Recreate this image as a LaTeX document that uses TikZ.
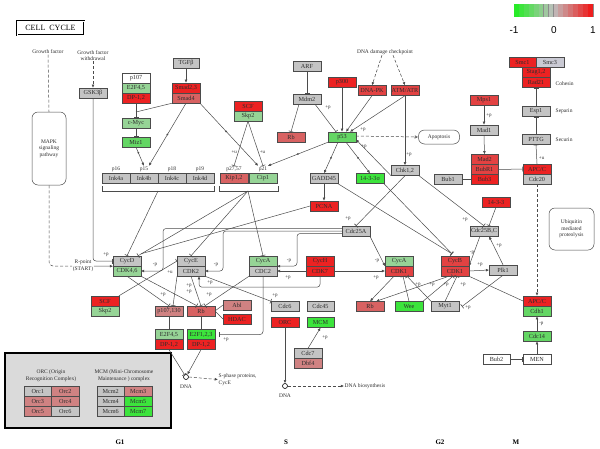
\documentclass[tikz,border=0pt]{standalone}
\usepackage{fontspec}
\setmainfont{Liberation Serif}
\newfontfamily\barfont{Liberation Sans}
\usetikzlibrary{arrows.meta,calc}
\definecolor{cGray}{RGB}{196,196,196}
\definecolor{cSmc}{RGB}{202,202,212}
\definecolor{cR}{RGB}{236,34,34}
\definecolor{cR2}{RGB}{226,66,66}
\definecolor{cR3}{RGB}{216,98,98}
\definecolor{cR4}{RGB}{208,130,130}
\definecolor{cG}{RGB}{60,228,60}
\definecolor{cG2}{RGB}{100,214,100}
\definecolor{cG3}{RGB}{150,212,150}
\definecolor{cLine}{RGB}{75,75,75}
\definecolor{cTxt}{RGB}{45,45,45}
\definecolor{cLeg}{RGB}{218,218,218}
\definecolor{cBG}{RGB}{40,235,40}
\definecolor{cBM}{RGB}{190,190,190}
\definecolor{cBR}{RGB}{238,30,30}
\tikzset{
 kb/.style={draw=cLine, line width=0.4pt, minimum width=27.5pt, minimum height=10pt, inner sep=0pt, font=\fontsize{6.2}{6.2}\selectfont, text=cTxt},
 lab/.style={font=\fontsize{5.5}{6.5}\selectfont, text=cTxt, inner sep=0.5pt},
 plab/.style={font=\fontsize{5}{5}\selectfont, text=cTxt, inner sep=0pt},
 ln/.style={draw=cLine, line width=0.5pt},
 act/.style={ln, -{Latex[length=3.2pt,width=2.8pt]}},
 inh/.style={ln, -{Bar[width=5pt,line width=0.6pt]}},
 dsh/.style={ln, dash pattern=on 3pt off 2pt},
 dact/.style={dsh, -{Latex[length=3.2pt,width=2.8pt]}},
 dotm/.style={circle, fill=cLine, inner sep=0pt, minimum size=2pt},
 rbox/.style={draw=cLine, line width=0.5pt, rounded corners=6pt, inner sep=0.5pt, align=center, font=\fontsize{5.5}{6.5}\selectfont, text=cTxt},
 phase/.style={font=\bfseries\fontsize{7}{7}\selectfont, text=black, inner sep=0pt},
}
\begin{document}
\begin{tikzpicture}[x=1pt,y=-1pt]
\useasboundingbox (0,0) rectangle (600,448);
\fill[white] (0,0) rectangle (600,448);

% ---------- title and colour bar
\node[draw=black, line width=0.8pt, double, double distance=0.7pt, minimum width=67pt, minimum height=14pt, inner sep=0pt, font=\fontsize{8}{8}\selectfont] (title) at (50.5,28) {CELL\ \ CYCLE};
\foreach \i in {0,...,15}{
  \pgfmathsetmacro\xa{514+\i*4.9375}
  \pgfmathsetmacro\xb{\xa+4.9375}
  \ifnum\i<8
    \pgfmathtruncatemacro\pp{100*(7.5-\i)/7.5}
    \fill[cBG!\pp!cBM] (\xa,4) rectangle (\xb,17);
  \else
    \pgfmathtruncatemacro\pp{100*(\i-7.5)/7.5}
    \fill[cBR!\pp!cBM] (\xa,4) rectangle (\xb,17);
  \fi
  \draw[black!45, line width=0.3pt] (\xb,4) -- (\xb,17);
}
\node[font=\barfont\fontsize{10}{10}\selectfont, inner sep=0pt] (bm1) at (514,30) {-1};
\node[font=\barfont\fontsize{10}{10}\selectfont, inner sep=0pt] (b0) at (554,30) {0};
\node[font=\barfont\fontsize{10}{10}\selectfont, inner sep=0pt] (b1) at (593,30) {1};

% ---------- G1 upper
\node[lab] (gf) at (48,52) {Growth factor};
\node[lab, align=center] (gfw) at (93,55.5) {Growth factor\\withdrawal};
\node[rbox, minimum width=34pt, minimum height=73pt] (mapk) at (49,148.5) {MAPK\\signaling\\pathway};
\node[kb,fill=cGray] (gsk) at (93,93) {GSK3β};
\node[kb,fill=white] (p107) at (136,78) {p107};
\node[kb,fill=cG3] (e2f45a) at (136,88) {E2F4,5};
\node[kb,fill=cR] (dp12a) at (136,98) {DP-1,2};
\node[kb,fill=cGray, minimum width=26pt] (tgfb) at (186,63) {TGFβ};
\node[kb,fill=cR] (smad23) at (186,88) {Smad2,3};
\node[kb,fill=cR3] (smad4) at (186,98) {Smad4};
\node[kb,fill=cG3] (cmyc) at (136,123) {c-Myc};
\node[kb,fill=cG2] (miz1) at (136,142) {Miz1};
\node[kb,fill=cR] (scft) at (248,106) {SCF};
\node[kb,fill=cG3] (skp2t) at (248,116) {Skp2};

\node[kb,fill=cGray] (ink4a) at (116,178.5) {Ink4a};
\node[kb,fill=cGray] (ink4b) at (144,178.5) {Ink4b};
\node[kb,fill=cGray] (ink4c) at (172,178.5) {Ink4c};
\node[kb,fill=cGray] (ink4d) at (200,178.5) {Ink4d};
\node[kb,fill=cR3] (kip12) at (234,178.5) {Kip1,2};
\node[kb,fill=cG3] (cip1) at (263,178.5) {Cip1};
\node[lab] (lp16) at (116,169) {p16};
\node[lab] (lp15) at (144,169) {p15};
\node[lab] (lp18) at (172,169) {p18};
\node[lab] (lp19) at (200,169) {p19};
\node[lab] (lp2757) at (234,169) {p27,57};
\node[lab] (lp21) at (263,169) {p21};
\draw[ln] (102,186) -- (102,191) -- (214,191) -- (214,186);
\draw[ln] (219,186) -- (219,191) -- (278,191) -- (278,186);
\coordinate (ib) at (158,191);
\coordinate (kcb) at (248,191);

% ---------- p53 area
\node[kb,fill=cGray] (arf) at (307,66.5) {ARF};
\node[kb,fill=cGray] (mdm2) at (307,99) {Mdm2};
\node[kb,fill=cR] (p300) at (342,82) {p300};
\node[kb,fill=cR2] (dnapk) at (372,90.5) {DNA-PK};
\node[kb,fill=cR2] (atm) at (405,90.5) {ATM/ATR};
\node[lab] (dnadmg) at (385,52) {DNA damage checkpoint};
\node[kb,fill=cR3] (rbt) at (291,137) {Rb};
\node[kb,fill=cG2] (p53) at (342,137) {p53};
\node[rbox, minimum width=41pt, minimum height=14pt] (apop) at (439,137) {Apoptosis};
\node[kb,fill=cGray] (gadd45) at (324,178.5) {GADD45};
\node[kb,fill=cG] (s14) at (370,178.5) {14-3-3σ};
\node[kb,fill=cR] (pcna) at (324,206) {PCNA};
\node[kb,fill=cGray] (chk) at (405,170.5) {Chk1,2};

% ---------- M upper
\node[kb,fill=cR] (smc1) at (522.5,62.5) {Smc1};
\node[kb,fill=cSmc] (smc3) at (550,62.5) {Smc3};
\node[kb,fill=cR] (stag) at (536,72.5) {Stag1,2};
\node[kb,fill=cR] (rad21) at (536,82.5) {Rad21};
\node[lab, anchor=west] (cohesin) at (555,84) {Cohesin};
\node[kb,fill=cGray] (esp1) at (536,111.5) {Esp1};
\node[lab, anchor=west] (separin) at (555,111.5) {Separin};
\node[kb,fill=cGray] (pttg) at (536,139.5) {PTTG};
\node[lab, anchor=west] (securin) at (555,139.5) {Securin};
\node[kb,fill=cR2] (mps1) at (484,100.5) {Mps1};
\node[kb,fill=cGray] (mad1) at (484,130) {Mad1};
\node[kb,fill=cR2] (mad2) at (484.5,159.5) {Mad2};
\node[kb,fill=cR2] (bubr1) at (484.5,169.5) {BubR1};
\node[kb,fill=cR] (bub3) at (484.5,179.5) {Bub3};
\node[kb,fill=cGray] (bub1) at (448,179.5) {Bub1};
\node[kb,fill=cR] (apcct) at (537,169) {APC/C};
\node[kb,fill=cGray] (cdc20) at (537,179) {Cdc20};
\node[rbox, minimum width=45pt, minimum height=42pt] (ubiq) at (571.5,229) {Ubiquitin\\mediated\\proteolysis};
\node[kb,fill=cR] (s1433b) at (496,202) {14-3-3};
\node[kb,fill=cGray] (cdc25bc) at (484,231) {Cdc25B,C};
\node[kb,fill=cGray] (cdc25a) at (356,231) {Cdc25A};

% ---------- cyclin row
\node[kb,fill=cGray] (cycd) at (127,261) {CycD};
\node[kb,fill=cG3] (cdk46) at (127,271) {CDK4,6};
\node[kb,fill=cGray] (cyce) at (191,261) {CycE};
\node[kb,fill=cGray] (cdk2) at (191,271) {CDK2};
\node[kb,fill=cG3] (cyca) at (263,261) {CycA};
\node[kb,fill=cGray] (cdc2) at (263,271) {CDC2};
\node[kb,fill=cR] (cych) at (320,261) {CycH};
\node[kb,fill=cR] (cdk7) at (320,271) {CDK7};
\node[kb,fill=cG3] (cyca2) at (399,261) {CycA};
\node[kb,fill=cR2] (cdk1a) at (399,271) {CDK1};
\node[kb,fill=cR2] (cycb) at (455,261) {CycB};
\node[kb,fill=cR2] (cdk1b) at (455,271) {CDK1};
\node[kb,fill=cGray] (plk1) at (503,270) {Plk1};
\node[lab, align=center] (rpoint) at (83,266) {R-point\\(START)};

% ---------- lower G1/S
\node[kb,fill=cR] (scfb) at (105,301) {SCF};
\node[kb,fill=cG3] (skp2b) at (105,311) {Skp2};
\node[kb,fill=cR4] (p107b) at (169,311) {p107,130};
\node[kb,fill=cR3] (rbb) at (201,311) {Rb};
\node[kb,fill=cR4] (abl) at (237,305) {Abl};
\node[kb,fill=cR] (hdac) at (237,319) {HDAC};
\node[kb,fill=cG3] (e2f45b) at (169,334.5) {E2F4,5};
\node[kb,fill=cR] (dp12b) at (169,344.5) {DP-1,2};
\node[kb,fill=cG] (e2f123) at (201,334.5) {E2F1,2,3};
\node[kb,fill=cR] (dp12c) at (201,344.5) {DP-1,2};
\node[circle, draw=black, line width=0.6pt, minimum size=5pt, inner sep=0pt] (dna1) at (186,377) {};
\node[lab] (dna1l) at (186,387) {DNA};
\node[lab, align=left, anchor=west] (sphase) at (218,379.5) {S-phase proteins,\\CycE};
\node[kb,fill=cGray] (cdc6) at (285,306.5) {Cdc6};
\node[kb,fill=cR] (orc) at (285,322.5) {ORC};
\node[kb,fill=cGray] (cdc45) at (320.5,306.5) {Cdc45};
\node[kb,fill=cG] (mcm) at (320.5,322.5) {MCM};
\node[kb,fill=cGray] (cdc7) at (308,353.5) {Cdc7};
\node[kb,fill=cR4] (dbf4) at (308,363.5) {Dbf4};
\node[circle, draw=black, line width=0.6pt, minimum size=5pt, inner sep=0pt] (dna2) at (285,386) {};
\node[lab] (dna2l) at (285,396) {DNA};
\node[lab, anchor=west] (dnabio) at (344,386) {DNA biosynthesis};

% ---------- lower G2/M
\node[kb,fill=cR3] (rbg2) at (370,306.5) {Rb};
\node[kb,fill=cG] (wee) at (409,306.5) {Wee};
\node[kb,fill=cGray] (myt1) at (445,306.5) {Myt1};
\node[kb,fill=cR] (apccb) at (537,301) {APC/C};
\node[kb,fill=cG2] (cdh1) at (537,311) {Cdh1};
\node[kb,fill=cG2] (cdc14) at (537,336) {Cdc14};
\node[kb,fill=white] (men) at (537,359.5) {MEN};
\node[kb,fill=white] (bub2) at (496.5,359.5) {Bub2};

% ---------- legend
\node[draw=black, line width=1.6pt, fill=cLeg, minimum width=166pt, minimum height=75pt, inner sep=0pt] (legend) at (88,390.5) {};
\node[lab, align=center] (orct) at (51,375.5) {ORC (Origin\\Recognition Complex)};
\node[lab, align=center] (mcmt) at (124,375.5) {MCM (Mini-Chromosome\\Maintenance ) complex};
\node[kb,fill=cGray] (orc1) at (37.75,391) {Orc1};
\node[kb,fill=cR4] (orc2) at (65.25,391) {Orc2};
\node[kb,fill=cR4] (orc3) at (37.75,401) {Orc3};
\node[kb,fill=cR4] (orc4) at (65.25,401) {Orc4};
\node[kb,fill=cR4] (orc5) at (37.75,411) {Orc5};
\node[kb,fill=cGray] (orc6) at (65.25,411) {Orc6};
\node[kb,fill=cGray] (mcm2) at (110.75,391) {Mcm2};
\node[kb,fill=cR4] (mcm3) at (138.25,391) {Mcm3};
\node[kb,fill=cGray] (mcm4) at (110.75,401) {Mcm4};
\node[kb,fill=cG] (mcm5) at (138.25,401) {Mcm5};
\node[kb,fill=cGray] (mcm6) at (110.75,411) {Mcm6};
\node[kb,fill=cG] (mcm7) at (138.25,411) {Mcm7};

% ---------- phases
\node[phase] (pg1) at (120,442) {G1};
\node[phase] (ps) at (286,442) {S};
\node[phase] (pg2) at (440,442) {G2};
\node[phase] (pm) at (516,442) {M};

% =================== connectors ===================
\draw[dsh] (gf.south) -- (mapk.north);
\draw[dact] (gfw.south) -- (gsk.north);
\draw[inh, rounded corners=3pt] (gsk.south) |- (cycd.west);
\node[plab] (l1) at (106,255) {+p};
\draw[dsh, rounded corners=4pt] (mapk.south) |- (rpoint.west);
\draw[act] (rpoint.east) -- (cycd.south west);

\coordinate (j1) at (136,112);
\draw[ln] (dp12a.south) -- (j1);
\draw[ln] (smad4.south west) -- (j1);
\draw[inh] (j1) -- (cmyc.north);
\draw[inh] (cmyc.south) -- (miz1.north);
\draw[act] (tgfb.south) -- (smad23.north);
\draw[act] (miz1.south) -- node[dotm,pos=0.3]{} (lp15.north);
\draw[act] (smad4.south) -- node[dotm]{} (lp15.north east);
\draw[act] (smad4.south east) -- node[dotm,pos=0.45]{} (lp21.north west);
\draw[inh] (skp2t.south) -- node[plab,left=1pt,pos=0.7]{+u} (lp2757.north);
\draw[inh] (skp2t.south) -- node[plab,right=1pt,pos=0.7]{+u} (lp21.north);
\draw[act] (p53.south west) -- node[dotm]{} (lp21.north east);

\draw[inh] (arf.south) -- (mdm2.north);
\draw[inh] ($(mdm2.south)+(-8,0)$) -- (rbt.north);
\draw[inh] ($(mdm2.south)+(8,0)$) -- ($(p53.north)+(-6,0)$);
\node[plab] (l2) at (328,108) {+p};
\draw[act] (p300.south) -- (p53.north);
\draw[act] (dnapk.south) -- ($(p53.north)+(4,0)$);
\draw[act] (atm.south) -- ($(p53.north)+(8,0)$);
\node[plab] (l3) at (363,130) {+p};
\draw[act] (chk.south west) -- ($(p53.east)+(0,2.5)$);
\node[plab] (l4) at (364,147) {+p};
\draw[dact] ($(dnadmg.south)+(-3,0)$) -- (dnapk.north);
\draw[dact] ($(dnadmg.south)+(8,0)$) -- (atm.north);
\draw[act] (atm.south) -- node[plab,right=1pt,pos=0.85]{+p} (chk.north);
\draw[dsh, -{Latex[open,length=3.5pt,width=3.5pt]}] ($(p53.east)+(0,-1)$) -- (apop.west);
\draw[act] ($(p53.south)+(-4,0)$) -- node[dotm]{} (gadd45.north);
\draw[act] ($(p53.south)+(4,0)$) -- node[dotm]{} (s14.north);
\draw[act] (gadd45.south) -- (pcna.north);
\draw[inh] (gadd45.south east) -- ($(cycb.north)+(-3,-2)$);
\draw[inh] (s14.south east) -- ($(cycb.north)+(-3,-2)$);
\draw[inh] (chk.south) -- (cdc25a.north);
\node[plab] (l5) at (348,219) {+p};
\draw[inh] (chk.south east) -- (cdc25bc.north);
\node[plab] (l6) at (465,220) {+p};
\draw[inh] (s1433b.south) -- ($(cdc25bc.north)+(5,0)$);
\draw[act] ($(cdc25bc.south)+(-4,0)$) -- (cycb.south east);
\node[plab] (l7) at (472,253) {-p};
\draw[act] (plk1.north) -- ($(cdc25bc.south)+(5,0)$);
\node[plab] (l8) at (499,246) {+p};
\draw[act] (cdk1b.east) -- (plk1.west);
\node[plab] (l9) at (480,265) {+p};

% Cdc25A to CDKs
\draw[act, rounded corners=3pt] ($(cdc25a.west)+(0,-2.5)$) -| (163,271) -- (cdk46.east);
\node[plab] (l10) at (155,265) {-p};
\draw[act, rounded corners=3pt] (cdc25a.west) -| (223,271) -- (cdk2.east);
\node[plab] (l11) at (216,265) {-p};
\draw[act, rounded corners=3pt] ($(cdc25a.west)+(0,2.5)$) -| (297,266) -- (cyca.south east);
\node[plab] (l12) at (289,261) {-p};
\draw[act] (cdc25a.south east) -- (cyca2.south west);
\node[plab] (l13) at (377,261) {-p};
\draw[act] (cdk7.west) -- (cdc2.east);
\node[plab] (l14) at (288,278) {+p};
\draw[act] (cdk7.east) -- (cdk1a.west);
\node[plab] (l15) at (376,278) {+p};
\draw[act, rounded corners=3pt] (cdk7.south) -- ++(0,11) -| ($(cdk2.south)+(8,0)$);
\node[plab] (l16) at (210,283) {+p};

% inhibitors of cyclins
\draw[inh] (ib) -- (cycd.north);
\draw[inh] (kcb) -- ($(cycd.north east)+(-3,0)$);
\draw[inh] (kcb) -- (cyce.north);
\draw[inh] (kcb) -- (cyca.north);
\draw[ln] (pcna.west) -- ($(cycd.north east)+(0,-2)$);

% G1/S lower
\draw[inh] (cdk46.south) -- (p107b.north);
\node[plab] (l17) at (163,295) {+p};
\draw[inh] (cdk46.south east) -- ($(rbb.north)+(-4,0)$);
\draw[inh] (cdk2.south) -- (rbb.north);
\node[plab] (l18) at (189,286) {+p};
\node[plab] (l19) at (189,292) {+p};
\draw[inh] (cdk2.south west) -- ($(p107b.north)+(4,0)$);
\draw[inh] (cdc2.south west) -- ($(rbb.north)+(4,0)$);
\node[plab] (l20) at (209,295) {+p};
\draw[inh] (scfb.north east) -- (cyce.west);
\node[plab] (l21) at (170,272) {+u};
\draw[inh] (cdk2.south east) -- (cdc6.north west);
\node[plab] (l22) at (275,296) {+p};
\draw[inh, rounded corners=3pt] (cdc2.south) |- ($(e2f123.east)+(4,0)$);
\node[plab] (l23) at (226,340) {+p};
\draw[inh] (rbb.south) -- (e2f123.north);
\draw[inh] (p107b.south) -- (e2f45b.north);
\draw[ln] (rbb.east) -- (abl.west);
\draw[ln] (rbb.east) -- (hdac.west);
\draw[inh] (dp12b.south) -- (dna1);
\draw[act] (dp12c.south) -- (dna1);
\draw[dact] (dna1.east) -- (sphase.west);
\draw[act] (orc.south) -- (dna2.north);
\draw[act] (cdc7.north) -- (mcm.south);
\node[plab] (l24) at (325,338) {+p};
\draw[dact] (dna2.east) -- (dnabio.west);

% G2 lower
\draw[act] ($(cdk1a.south)+(-5,0)$) -- (rbg2.north);
\draw[act] ($(cdk1b.south)+(-6,0)$) -- ($(rbg2.north)+(6,0)$);
\draw[inh] (wee.north) -- ($(cdk1a.south)+(4,0)$);
\draw[inh] (wee.north east) -- ($(cdk1b.south)+(-2,0)$);
\draw[inh] (myt1.north west) -- ($(cdk1a.south)+(8,0)$);
\draw[inh] (myt1.north) -- ($(cdk1b.south)+(2,0)$);
\node[plab] (l25) at (418,285) {+p};
\node[plab] (l26) at (432,285) {+p};
\node[plab] (l27) at (446,285) {+p};
\node[plab] (l28) at (463,285) {+p};
\draw[inh] (plk1.south) -- ($(myt1.east)+(3,0)$);
\node[plab] (l29) at (468,308) {+p};
\draw[ln] (cdk1b.south east) -- (apccb.west);

% M
\draw[act] (mps1.south) -- node[plab,right=2pt]{+p} (mad1.north);
\draw[act] (mad1.south) -- (mad2.north);
\draw[ln] (bub1.east) -- (bub3.west);
\draw[inh] (bubr1.east) -- (apcct.west);
\draw[inh] (apcct.north) -- node[plab,right=2pt,pos=0.3]{+u} (pttg.south);
\draw[inh] (pttg.north) -- (esp1.south);
\draw[inh] (esp1.north) -- (rad21.south);
\draw[dact] (cdc20.south) -- (apccb.north);
\draw[act] (cdc14.north) -- node[plab,right=2pt]{-p} (cdh1.south);
\draw[act] (men.north) -- (cdc14.south);
\draw[inh] (bub2.east) -- (men.west);
\end{tikzpicture}
\end{document}
